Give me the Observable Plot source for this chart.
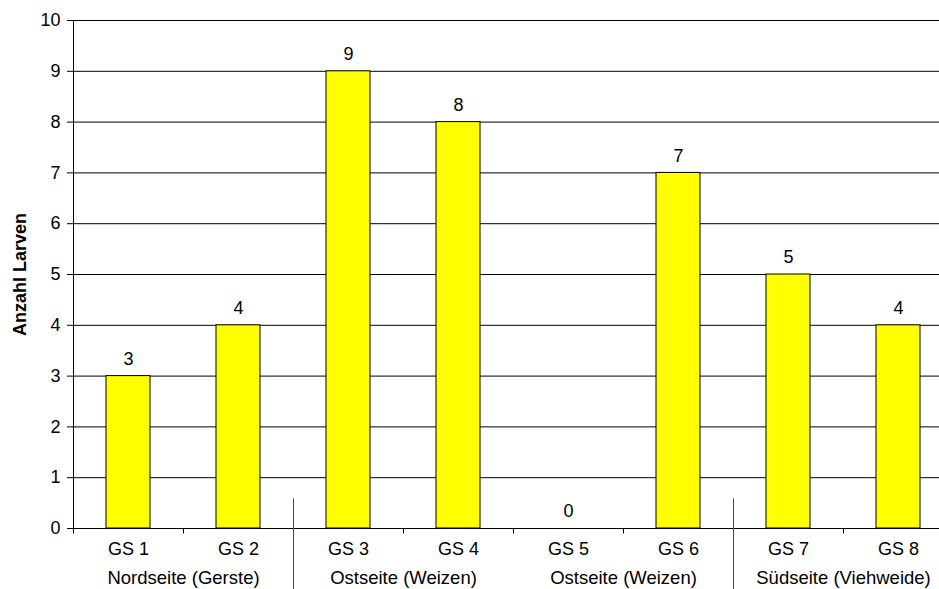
<!DOCTYPE html>
<html>
<head>
<meta charset="utf-8">
<script src="https://cdn.jsdelivr.net/npm/d3@7"></script>
<script src="https://cdn.jsdelivr.net/npm/@observablehq/plot@0.6"></script>
<style>
  body { margin: 0; background: #fff; overflow: hidden; }
  #chart svg { display: block; }
</style>
</head>
<body>
<div id="chart"></div>
<script>
// Larvae counted per sampling site (GS = Grabungsstelle)
const sites = ["GS 1", "GS 2", "GS 3", "GS 4", "GS 5", "GS 6", "GS 7", "GS 8"];
const larvae = [3, 4, 9, 8, 0, 7, 5, 4];

// Field side / crop, each covering two sites
const groups = ["Nordseite (Gerste)", "Ostseite (Weizen)", "Ostseite (Weizen)", "Südseite (Viehweide)"];
const groupSites = [["GS 1", "GS 2"], ["GS 3", "GS 4"], ["GS 5", "GS 6"], ["GS 7", "GS 8"]];
// a long divider follows these sites
const groupBreaks = ["GS 2", "GS 6"];

const yTicks = [0, 1, 2, 3, 4, 5, 6, 7, 8, 9, 10];
const yLabel = "Anzahl Larven";

const data = sites.map((site, i) => ({site, value: larvae[i]}));

// Category axis: baseline, boundary ticks, group dividers and group labels
function categoryAxis(index, scales, values, dim) {
  const {x, y} = scales;
  const bw = typeof x.bandwidth === "function" ? x.bandwidth() : x.bandwidth;
  const step = x(sites[1]) - x(sites[0]);
  const y0 = y(0);
  const g = d3.create("svg:g")
    .attr("transform", "translate(0.5,0.5)")
    .attr("fill", "none")
    .attr("stroke", "#000");
  // vertical value axis line
  g.append("line")
    .attr("x1", dim.marginLeft).attr("x2", dim.marginLeft)
    .attr("y1", y(yTicks[yTicks.length - 1])).attr("y2", y0 + 5);
  // baseline
  g.append("line")
    .attr("x1", dim.marginLeft).attr("x2", dim.width)
    .attr("y1", y0).attr("y2", y0);
  sites.slice(0, -1).forEach(s => {
    const bx = Math.round(x(s) + bw + (step - bw) / 2);
    const isBreak = groupBreaks.includes(s);
    g.append("line")
      .attr("x1", bx).attr("x2", bx)
      .attr("y1", isBreak ? y0 - 30 : y0)
      .attr("y2", isBreak ? dim.height : y0 + 5)
      .attr("stroke", isBreak ? "#444" : "#000");
  });
  const t = g.append("g")
    .attr("stroke", "none")
    .attr("fill", "#000")
    .attr("font-size", "18.5px")
    .attr("text-anchor", "middle");
  groups.forEach((label, i) => {
    const [a, b] = groupSites[i];
    const cx = (x(a) + x(b)) / 2 + bw / 2;
    t.append("text")
      .attr("x", cx)
      .attr("y", y0 + 50)
      .attr("dy", "0.32em")
      .text(label);
  });
  return g.node();
}

const chart = Plot.plot({
  width: 939,
  height: 589,
  marginTop: 20,
  marginBottom: 61,
  marginLeft: 73,
  marginRight: 0,
  style: {
    fontFamily: "'Liberation Sans', Arial, sans-serif",
    fontSize: "18px",
    background: "#fff",
    color: "#000"
  },
  x: {
    domain: sites,
    range: [73, 953],
    paddingInner: 0.6,
    paddingOuter: 0.3,
    axis: null
  },
  y: {
    domain: [0, 10],
    ticks: yTicks,
    tickSize: 6,
    tickPadding: 7,
    label: null
  },
  marks: [
    Plot.ruleY(yTicks, {stroke: "#000", strokeOpacity: 1}),
    Plot.barY(data, {x: "site", y: "value", fill: "#ffff00", stroke: "#000", strokeWidth: 1}),
    Plot.text(data, {x: "site", y: "value", text: d => String(d.value), dy: -17}),
    Plot.text(sites, {x: d => d, frameAnchor: "bottom", dy: 26}),
    Plot.text([yLabel], {frameAnchor: "left", textAnchor: "middle", rotate: -90, dx: -53, fontWeight: "bold"}),
    categoryAxis
  ]
});

document.getElementById("chart").append(chart);
</script>
</body>
</html>
